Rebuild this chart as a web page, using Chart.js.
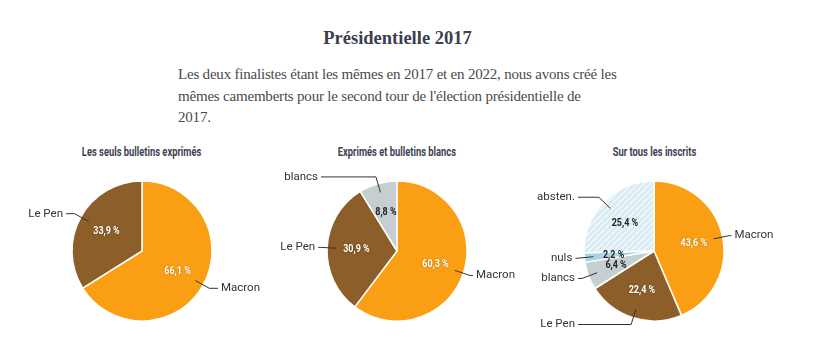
<!DOCTYPE html>
<html lang="fr">
<head>
<meta charset="UTF-8">
<title>Présidentielle 2017</title>
<style>
  body { margin: 0; background: #fff; width: 815px; height: 361px; overflow: hidden; position: relative; }
  #titre { position: absolute; left: 0; width: 795px; top: 27px; text-align: center;
           font: bold 18.5px "Liberation Serif", serif; color: #3b3f4d; line-height: 22px; }
  #intro { position: absolute; left: 178px; top: 64px; width: 470px;
           font: 15px "Liberation Serif", serif; color: #4a4a4a; line-height: 21.5px; letter-spacing: -0.2px; }
  .sous-titre { position: absolute; top: 145px; width: 260px; text-align: center;
                font: bold 12px Roboto, sans-serif; color: #3d4150; line-height: 14px; }
  .sous-titre span { display: inline-block; transform: scaleX(0.78); white-space: nowrap; }
  canvas { position: absolute; top: 151px; }
</style>
</head>
<body>
<div id="titre">Présidentielle 2017</div>
<div id="intro">Les deux finalistes étant les mêmes en 2017 et en 2022, nous avons créé les<br>mêmes camemberts pour le second tour de l'élection présidentielle de<br>2017.</div>

<div class="sous-titre" id="st1" style="left:12px"><span></span></div>
<div class="sous-titre" id="st2" style="left:267px"><span></span></div>
<div class="sous-titre" id="st3" style="left:524px"><span></span></div>

<canvas id="pie1" width="260" height="200" style="left:12px"></canvas>
<canvas id="pie2" width="260" height="200" style="left:267px"></canvas>
<canvas id="pie3" width="260" height="200" style="left:524px"></canvas>

<script src="https://cdn.jsdelivr.net/npm/chart.js"></script>
<script>
  const titres = ['Les seuls bulletins exprimés', 'Exprimés et bulletins blancs', 'Sur tous les inscrits']

  const categories1 = ['Macron', 'Le Pen']
  const valeurs1 = [66.1, 33.9]

  const categories2 = ['Macron', 'Le Pen', 'blancs']
  const valeurs2 = [60.3, 30.9, 8.8]

  const categories3 = ['Macron', 'Le Pen', 'blancs', 'nuls', 'absten.']
  const valeurs3 = [43.6, 22.4, 6.4, 2.2, 25.4]

  // motif hachuré pour l'abstention
  const motif = (() => {
    const c = document.createElement('canvas')
    c.width = 6; c.height = 6
    const g = c.getContext('2d')
    g.fillStyle = '#eaf4f9'
    g.fillRect(0, 0, 6, 6)
    g.strokeStyle = '#d3e7f1'
    g.lineWidth = 1.5
    g.beginPath()
    g.moveTo(-1, 7); g.lineTo(7, -1)
    g.moveTo(-1, 1); g.lineTo(1, -1)
    g.moveTo(5, 7); g.lineTo(7, 5)
    g.stroke()
    return g.createPattern(c, 'repeat')
  })()

  const couleurs = {
    'Macron': '#fa9f14',
    'Le Pen': '#8c5e29',
    'blancs': '#c5ced0',
    'nuls': '#a9d6e6',
    'absten.': motif
  }
  const couleursTexte = {
    'Macron': '#fff',
    'Le Pen': '#fff',
    'blancs': '#222',
    'nuls': '#222',
    'absten.': '#222'
  }

  const etiquettes = {
    id: 'etiquettes',
    afterDatasetsDraw(chart) {
      const ctx = chart.ctx
      const meta = chart.getDatasetMeta(0)
      const ds = chart.data.datasets[0]
      meta.data.forEach((arc, i) => {
        const { x, y, startAngle, endAngle, outerRadius } = arc.getProps(['x', 'y', 'startAngle', 'endAngle', 'outerRadius'], true)
        const r = outerRadius
        const mid = (startAngle + endAngle) / 2
        const cos = Math.cos(mid), sin = Math.sin(mid)
        const nom = chart.data.labels[i]

        // pourcentage
        const txt = ds.data[i].toFixed(1).replace('.', ',') + ' %'
        const px = x + cos * r * 0.58, py = y + sin * r * 0.58
        ctx.save()
        ctx.translate(px, py)
        ctx.scale(0.78, 1)
        ctx.font = 'bold 11.5px Roboto, sans-serif'
        ctx.textAlign = 'center'
        ctx.textBaseline = 'middle'
        if (couleursTexte[nom] === '#fff') {
          ctx.shadowColor = 'rgba(0,0,0,0.35)'
          ctx.shadowBlur = 2
        }
        ctx.fillStyle = couleursTexte[nom]
        ctx.fillText(txt, 0, 0)
        ctx.restore()

        // trait de rappel
        const x1 = x + cos * r * 0.87, y1 = y + sin * r * 0.87
        const x2 = x + cos * r * 1.1, y2 = y + sin * r * 1.1
        const droite = cos > 0
        const x3 = droite ? Math.max(x + r + 6, x2 + 2) : Math.min(x - r - 6, x2 - 2)
        ctx.save()
        ctx.strokeStyle = '#333'
        ctx.lineWidth = 1
        ctx.beginPath()
        ctx.moveTo(x1, y1)
        ctx.lineTo(x2, y2)
        ctx.lineTo(x3, y2)
        ctx.stroke()
        ctx.font = '11.5px Roboto, sans-serif'
        ctx.fillStyle = '#333'
        ctx.textBaseline = 'middle'
        ctx.textAlign = droite ? 'left' : 'right'
        ctx.fillText(nom, droite ? x3 + 3 : x3 - 3, y2)
        ctx.restore()
      })
    }
  }

  const creerCamembert = (id, categories, valeurs) => {
    return new Chart(document.getElementById(id), {
      type: 'pie',
      data: {
        labels: categories,
        datasets: [{
          data: valeurs,
          backgroundColor: categories.map(c => couleurs[c]),
          borderColor: '#fff',
          borderWidth: 1.5,
          radius: 70
        }]
      },
      options: {
        responsive: false,
        animation: false,
        layout: { padding: 0 },
        plugins: {
          legend: { display: false },
          tooltip: { enabled: false }
        }
      },
      plugins: [etiquettes]
    })
  }

  document.querySelector('#st1 span').textContent = titres[0]
  document.querySelector('#st2 span').textContent = titres[1]
  document.querySelector('#st3 span').textContent = titres[2]

  let camembert1 = creerCamembert('pie1', categories1, valeurs1)
  let camembert2 = creerCamembert('pie2', categories2, valeurs2)
  let camembert3 = creerCamembert('pie3', categories3, valeurs3)
</script>
</body>
</html>
